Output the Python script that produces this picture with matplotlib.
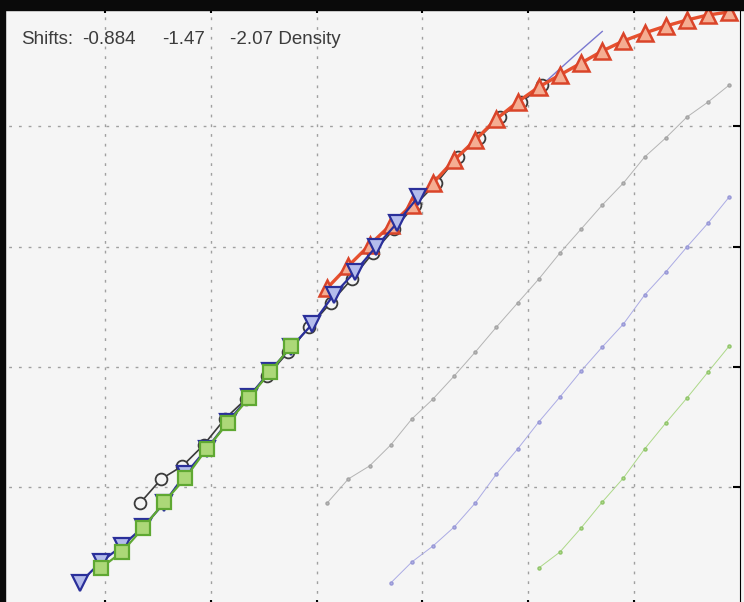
import matplotlib
matplotlib.use("Agg")
import numpy as np
import matplotlib.pyplot as plt
from matplotlib.patches import Rectangle

# Measured curves (unshifted); x in data units
gray_x = [1.55, 1.65, 1.75, 1.85, 1.95, 2.05, 2.15, 2.25, 2.35, 2.45,
          2.55, 2.65, 2.75, 2.85, 2.95, 3.05, 3.15, 3.25, 3.35, 3.45]
gray_y = [0.867, 1.067, 1.175, 1.349, 1.566, 1.732, 1.923, 2.123, 2.331, 2.531,
          2.730, 2.947, 3.146, 3.346, 3.529, 3.745, 3.904, 4.078, 4.203, 4.344]

blue_x = [1.85, 1.95, 2.05, 2.15, 2.25, 2.35, 2.45, 2.55, 2.65,
          2.75, 2.85, 2.95, 3.05, 3.15, 3.25, 3.35, 3.45]
blue_y = [0.201, 0.376, 0.509, 0.667, 0.867, 1.108, 1.316, 1.541, 1.749,
          1.965, 2.165, 2.356, 2.597, 2.789, 2.997, 3.196, 3.413]

green_x = [2.55, 2.65, 2.75, 2.85, 2.95, 3.05, 3.15, 3.25, 3.35, 3.45]
green_y = [0.326, 0.459, 0.659, 0.875, 1.075, 1.316, 1.532, 1.740, 1.957, 2.173]

# Density reference curve
density_x = [1.55, 1.65, 1.75, 1.85, 1.95, 2.05, 2.15, 2.25, 2.35, 2.45,
             2.55, 2.65, 2.75, 2.85, 2.95, 3.05, 3.15, 3.25, 3.35, 3.45]
density_y = [2.655, 2.839, 3.013, 3.180, 3.346, 3.529, 3.720, 3.887, 4.062, 4.203,
             4.328, 4.428, 4.527, 4.627, 4.711, 4.777, 4.835, 4.885, 4.927, 4.952]

fit_x = [2.45, 2.60, 2.72, 2.85]
fit_y = [4.17, 4.40, 4.59, 4.79]

shifts = [-0.884, -1.47, -2.07]
label_parts = ["Shifts:", "-0.884", "-1.47", "-2.07 Density"]

# Set up figure
fig = plt.figure(figsize=(7.44, 6.02), dpi=100, facecolor="#f3f3f3")
ax = fig.add_axes([-0.8/744, (602-607.2)/602, 740.6/744, 601/602])
ax.set_facecolor("#f5f5f5")

# Thin unshifted curves
ax.plot(gray_x, gray_y, c="#b4b4b4", lw=0.7, marker="o", ms=2.2, mfc="#b8b8b8", mec="#a4a4a4", zorder=2)
ax.plot(blue_x, blue_y, c="#ababe4", lw=0.7, marker="o", ms=2.2, mfc="#b0b0e4", mec="#9898d6", zorder=2)
ax.plot(green_x, green_y, c="#acd888", lw=0.7, marker="o", ms=2.2, mfc="#b0dc8a", mec="#90c46a", zorder=2)
ax.plot(fit_x, fit_y, c="#7a78d0", lw=1.0, zorder=2)

# Shifted curves
ax.plot(np.array(gray_x)+shifts[0], gray_y, c="#3a3a3a", lw=1.2, marker="o", ms=8.5,
        mfc="#f5f5f5", mec="#3a3a3a", mew=1.3, zorder=3)
ax.plot(density_x, density_y, c="#e6502e", lw=2.4, marker="^", ms=11,
        mfc="#f5ad92", mec="#da4429", mew=1.8, zorder=4)
ax.plot(np.array(blue_x)+shifts[1], blue_y, c="#2a2f9a", lw=1.6, marker="v", ms=11,
        mfc="#b4bcec", mec="#2a2f9a", mew=1.6, zorder=5)
ax.plot(np.array(green_x)+shifts[2], green_y, c="#5fa832", lw=1.6, marker="s", ms=10,
        mfc="#acd878", mec="#5fa832", mew=1.6, zorder=6)

# Axes properties
ax.set_xlim(0, 3.5)
ax.set_ylim(0, 5)
ax.set_xticks([0.5, 1.0, 1.5, 2.0, 2.5, 3.0])
ax.set_yticks([1, 2, 3, 4])
ax.tick_params(direction="in", length=5, width=1.5, top=True, right=True,
               labelbottom=False, labelleft=False)
ax.grid(True, color="#a0a0a0", linestyle=(0, (2, 5)), linewidth=1.0)
ax.set_axisbelow(True)

# Text
for part, px in zip(label_parts, [21, 82, 162, 230]):
    fig.text(px/744, 1-40/602, part, fontsize=13.5, family="Liberation Sans",
             color="#3c3c3c", va="center")

# Dark borders of the photo
fig.add_artist(Rectangle((0, 1-10/602), 1, 10/602, transform=fig.transFigure, color="#0a0a0a", zorder=10))
fig.add_artist(Rectangle((0, 0), 5/744, 1, transform=fig.transFigure, color="#0a0a0a", zorder=10))

fig.savefig("out.png", dpi=100, facecolor=fig.get_facecolor())
